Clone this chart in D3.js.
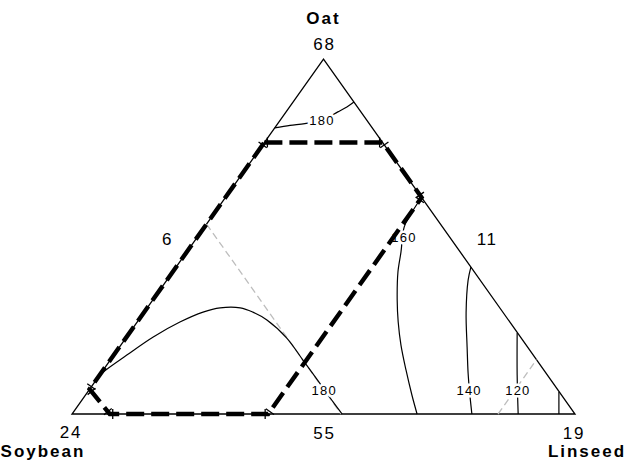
<!DOCTYPE html>
<html>
<head>
<meta charset="utf-8">
<script src="https://cdn.jsdelivr.net/npm/d3@7"></script>
<style>
  html, body { margin: 0; padding: 0; background: #fff; }
  svg { display: block; font-family: "Liberation Sans", Arial, sans-serif; }
</style>
</head>
<body>
<svg id="chart" width="630" height="461"></svg>
<script>
// Mixture components at the triangle vertices (soybean bottom-left, linseed bottom-right, oat top)
const components = ["Soybean", "Linseed", "Oat"];

// Design-point blends as [oat, linseed] fractions and the response observed there
const designBlends = [[0, 0], [0, 0.5], [0, 1], [0.5, 0.5], [1, 0], [0.5, 0]];
const designValues = [24, 55, 19, 11, 68, 6];

// Constraint region (dashed boundary), vertices as [oat, linseed]
const regionVertices = [
  [0.765, 0], [0.765, 0.235], [0.61, 0.39], [0, 0.39], [0, 0.075], [0.07, 0]
];

// Reference directions (grey dashed): constant soybean and constant linseed
const refLineSoy = [[0.535, 0], [0, 0.535]];
const refLineLin = [[0, 0.847], [0.153, 0.847]];

// Contour levels and their traces, points as [oat, linseed]
const contourLevels = [180, 180, 160, 140, 120, 100];
const contour180Top = [[0.806, 0], [0.813, 0.027], [0.818, 0.054], [0.828, 0.083], [0.851, 0.103], [0.865, 0.114], [0.879, 0.121]];
const contour180Low = [[0.099, 0], [0.118, 0.003], [0.166, 0.026], [0.217, 0.053], [0.259, 0.085], [0.287, 0.117], [0.299, 0.145], [0.299, 0.185], [0.287, 0.216], [0.265, 0.255], [0.214, 0.320], [0.152, 0.383], [0.087, 0.449], [0.034, 0.502], [0, 0.537]];
const contour160 = [[0.6, 0.39], [0.563, 0.392], [0.527, 0.397], [0.456, 0.426], [0.4, 0.448], [0.321, 0.486], [0.259, 0.519], [0.194, 0.557], [0.124, 0.602], [0.0535, 0.649], [0, 0.686]];
const contour140 = [[0.414, 0.586], [0.377, 0.599], [0.285, 0.641], [0.189, 0.691], [0.115, 0.730], [0.054, 0.764], [0, 0.795]];
const contour120 = [[0.228, 0.771], [0.11, 0.830], [0, 0.887]];
const contour100 = [[0.062, 0.937], [0, 0.968]];
const contourTraces = [contour180Top, contour180Low, contour160, contour140, contour120, contour100];

// Where each contour's value is written, as [oat, linseed]; null = unlabeled
const contourLabelAt = [[0.828, 0.081], [0.065, 0.467], [0.496, 0.41], [0.065, 0.755], [0.065, 0.852], null];

// ---- layout ----
const svg = d3.select("#chart");
const x = d3.scaleLinear().domain([0, 1]).range([72, 575]);
const y = d3.scaleLinear().domain([0, 1]).range([414, 59]);
const px = d => x(d[1] + d[0] / 2);
const py = d => y(d[0]);

svg.append("rect").attr("width", 630).attr("height", 461).attr("fill", "#fff");

const line = d3.line().x(px).y(py);
const smooth = d3.line().x(px).y(py).curve(d3.curveCatmullRom.alpha(0.5));

// triangle frame
const corners = [[0, 0], [0, 1], [1, 0]];
svg.append("path")
  .attr("d", line(corners) + "Z")
  .attr("fill", "none").attr("stroke", "#000").attr("stroke-width", 1.3)
  .attr("stroke-linejoin", "miter");

// grey reference directions
svg.selectAll("path.ref").data([refLineSoy, refLineLin]).join("path")
  .attr("class", "ref")
  .attr("d", line)
  .attr("fill", "none").attr("stroke", "#bdbdbd").attr("stroke-width", 1.3)
  .attr("stroke-dasharray", "7 4");

// contours
svg.selectAll("path.contour").data(contourTraces).join("path")
  .attr("class", "contour")
  .attr("d", smooth)
  .attr("fill", "none").attr("stroke", "#000").attr("stroke-width", 1.2);

// contour labels with a white knock-out behind them
const labelData = contourLevels.map((v, i) => ({ v, at: contourLabelAt[i] })).filter(d => d.at);
svg.selectAll("text.clabel").data(labelData).join("text")
  .attr("class", "clabel")
  .attr("x", d => px(d.at) + 1)
  .attr("y", d => py(d.at) + 4.5)
  .attr("text-anchor", "middle")
  .attr("font-size", 13)
  .attr("letter-spacing", 1.2)
  .attr("fill", "#000")
  .attr("stroke", "#fff").attr("stroke-width", 5).attr("paint-order", "stroke")
  .text(d => d.v);

// constraint region boundary
svg.append("path")
  .attr("d", line(regionVertices) + "Z")
  .attr("fill", "none").attr("stroke", "#000").attr("stroke-width", 4.4)
  .attr("stroke-dasharray", "18 7");

// small tick marks at the region corners
const n = regionVertices.length;
const ticks = [];
regionVertices.forEach((v, i) => {
  [regionVertices[(i + n - 1) % n], regionVertices[(i + 1) % n]].forEach(w => {
    const dx = px(w) - px(v), dy = py(w) - py(v);
    const len = Math.hypot(dx, dy);
    const ux = dx / len, uy = dy / len;
    ticks.push({ cx: px(v) + ux * 3, cy: py(v) + uy * 3, nx: -uy, ny: ux });
  });
});
svg.selectAll("line.tick").data(ticks).join("line")
  .attr("class", "tick")
  .attr("x1", d => d.cx - d.nx * 5).attr("y1", d => d.cy - d.ny * 5)
  .attr("x2", d => d.cx + d.nx * 5).attr("y2", d => d.cy + d.ny * 5)
  .attr("stroke", "#000").attr("stroke-width", 1.3);

// design-point values around the triangle
const valueOffsets = [[-2, 24], [0, 25], [-2, 25], [37, 8], [0, -9], [-31, 8]];
svg.selectAll("text.dv").data(designValues).join("text")
  .attr("class", "dv")
  .attr("x", (d, i) => px(designBlends[i]) + valueOffsets[i][0] + 1)
  .attr("y", (d, i) => py(designBlends[i]) + valueOffsets[i][1])
  .attr("text-anchor", "middle")
  .attr("font-size", 17)
  .attr("letter-spacing", 1.8)
  .attr("fill", "#000")
  .text(d => d);

// component names
const nameAnchors = [[0, 0], [0, 1], [1, 0]];
const nameOffsets = [[-29, 43], [12, 43], [0, -35]];
svg.selectAll("text.comp").data(components).join("text")
  .attr("class", "comp")
  .attr("x", (d, i) => px(nameAnchors[i]) + nameOffsets[i][0])
  .attr("y", (d, i) => py(nameAnchors[i]) + nameOffsets[i][1])
  .attr("text-anchor", "middle")
  .attr("font-size", 17)
  .attr("font-weight", "bold")
  .attr("letter-spacing", 2)
  .attr("fill", "#000")
  .text(d => d);
</script>
</body>
</html>
